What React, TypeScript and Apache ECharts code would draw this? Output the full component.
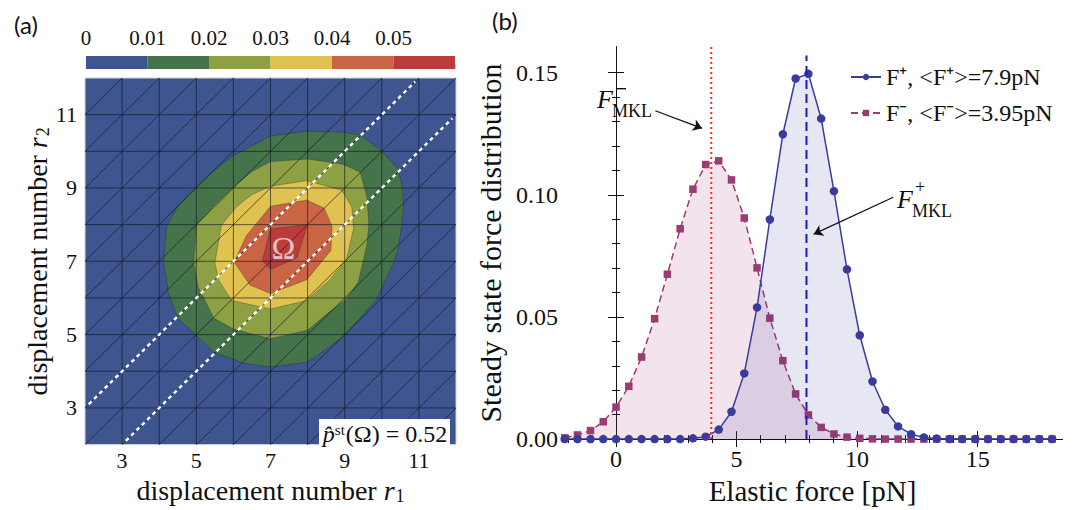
import React, { useEffect, useRef } from "react";
import * as echarts from "echarts";

// ---------------- Panel (a): contour data ----------------
const R_MIN = 2;
const R_MAX = 12;
const R_TICKS = [3, 5, 7, 9, 11];
const MESH_LINES = [3, 4, 5, 6, 7, 8, 9, 10, 11];
const MESH_DIAGONALS = [-9, -8, -7, -6, -5, -4, -3, -2, -1, 0, 1, 2, 3, 4, 5, 6, 7, 8, 9];

const LEVELS = [0, 0.01, 0.02, 0.03, 0.04, 0.05, 0.06];
const LEVEL_TICKS = [0, 0.01, 0.02, 0.03, 0.04, 0.05];
const LEVEL_COLORS = ["#3e5590", "#45744a", "#8da043", "#dfc24f", "#c96444", "#bc3c3c"];

const CONTOUR_001 = [[7.0, 10.42], [8.0, 10.55], [8.95, 10.52], [9.42, 10.45], [10.0, 10.0], [10.44, 9.52], [10.56, 9.0], [10.58, 8.5], [10.54, 8.0], [10.45, 7.4], [10.36, 7.05], [10.1, 6.5], [9.86, 5.97], [9.42, 5.45], [8.97, 4.95], [8.0, 4.25], [7.0, 4.12], [6.27, 4.22], [5.46, 4.53], [5.0, 4.98], [4.5, 5.45], [4.25, 6.12], [4.12, 7.0], [4.2, 7.95], [4.5, 8.5], [4.97, 9.02], [5.5, 9.5], [6.0, 9.88]];
const CONTOUR_002 = [[7.0, 9.72], [8.0, 9.79], [8.95, 9.65], [9.42, 9.43], [9.6, 8.75], [9.65, 8.0], [9.6, 7.45], [9.37, 6.45], [9.05, 5.97], [8.5, 5.55], [8.0, 5.12], [7.0, 4.89], [6.0, 5.15], [5.47, 5.45], [5.05, 6.3], [4.93, 6.97], [5.0, 8.0], [5.5, 8.55], [5.97, 9.0], [6.5, 9.45]];
const CONTOUR_003 = [[7.0, 9.05], [7.98, 9.2], [8.92, 8.94], [9.19, 8.49], [9.24, 7.9], [9.05, 7.05], [8.6, 6.5], [7.98, 5.93], [7.0, 5.7], [5.95, 5.93], [5.6, 6.5], [5.5, 6.96], [5.68, 7.99], [6.1, 8.5], [6.5, 8.82]];
const CONTOUR_004 = [[7.0, 8.5], [7.98, 8.67], [8.45, 8.45], [8.66, 7.95], [8.63, 7.3], [7.98, 6.5], [7.0, 6.12], [6.45, 6.35], [6.02, 6.98], [6.35, 7.7]];
const CONTOUR_005 = [[7.0, 7.88], [8.0, 8.0], [7.85, 7.55], [7.72, 7.1], [7.0, 6.78], [6.78, 7.02]];
const CONTOURS = [CONTOUR_001, CONTOUR_002, CONTOUR_003, CONTOUR_004, CONTOUR_005];

const GUIDE_UPPER = [[2.1, 3.1], [10.9, 11.9]];
const GUIDE_LOWER = [[3.1, 2.1], [11.9, 10.9]];
const OMEGA_AT = [7.35, 7.36];
const P_OMEGA = "0.52";

// ---------------- Panel (b): force distributions ----------------
const FORCE_PN = [-2.13, -1.6, -1.06, -0.53, 0, 0.53, 1.06, 1.6, 2.13, 2.66, 3.19, 3.72, 4.26, 4.79, 5.32, 5.85, 6.38, 6.92, 7.45, 7.98, 8.51, 9.04, 9.58, 10.11, 10.64, 11.17, 11.7, 12.24, 12.77, 13.3, 13.83, 14.36, 14.9, 15.43, 15.96, 16.49, 17.02, 17.56, 18.09];
const P_PLUS = [0, 0, 0, 0, 0, 0, 0, 0, 0, 0, 0.0003, 0.001, 0.0039, 0.0112, 0.0269, 0.0539, 0.0899, 0.1248, 0.1476, 0.1495, 0.1312, 0.1015, 0.0695, 0.0425, 0.0236, 0.012, 0.0052, 0.002, 0.0007, 0.0002, 0, 0, 0, 0, 0, 0, 0, 0, 0];
const P_MINUS = [0.0005, 0.0017, 0.0035, 0.0071, 0.0131, 0.0216, 0.0336, 0.0493, 0.0675, 0.0861, 0.1023, 0.1124, 0.1139, 0.1061, 0.0905, 0.0701, 0.0495, 0.0321, 0.0185, 0.0099, 0.0048, 0.0021, 0.0008, 0.0003, 0.0001, 0, 0, 0, 0, 0, 0, 0, 0, 0, 0, 0, 0, 0, 0];
const F_MIN = -2.2;
const F_MAX = 18.5;
const P_MIN = 0;
const P_MAX = 0.1605;
const F_MAJOR = [0, 5, 10, 15];
const F_MINOR = [-2, -1, 1, 2, 3, 4, 6, 7, 8, 9, 11, 12, 13, 14, 16, 17, 18];
const P_MAJOR = [0, 0.05, 0.1, 0.15];
const P_MINOR = [0.01, 0.02, 0.03, 0.04, 0.06, 0.07, 0.08, 0.09, 0.11, 0.12, 0.13, 0.14];
const MEAN_PLUS = 7.9;
const MEAN_MINUS = 3.95;
const LINE_TOP_PLUS = 0.157;
const ARROW_MINUS = [[1.63, 0.1344], [3.57, 0.1272]];
const ARROW_PLUS = [[11.5, 0.099], [8.2, 0.0839]];
const NAME_PLUS = "F\u207A, <F\u207A>=7.9pN";
const NAME_MINUS = "F\u207B, <F\u207B>=3.95pN";

const SERIF = '"Liberation Serif", "Times New Roman", serif';
const INK = "#111";

// mesh segments of the triangular grid
const MESH_SEGMENTS: number[][] = [];
MESH_LINES.forEach((n) => {
  MESH_SEGMENTS.push([n, R_MIN, n, R_MAX]);
  MESH_SEGMENTS.push([R_MIN, n, R_MAX, n]);
});
MESH_DIAGONALS.forEach((c) => {
  if (c >= 0) MESH_SEGMENTS.push([R_MIN, R_MIN + c, R_MAX - c, R_MAX]);
  else MESH_SEGMENTS.push([R_MIN - c, R_MIN, R_MAX, R_MAX + c]);
});

function frameAxis(position: string, values: number[], len: number, range: number[], extra: any = {}) {
  return {
    type: "value",
    gridIndex: 1,
    position,
    min: range[0],
    max: range[1],
    axisLine: { show: true, lineStyle: { color: INK, width: 1 } },
    axisTick: { show: true, inside: true, length: len, customValues: values, lineStyle: { color: INK, width: 1 } },
    axisLabel: { show: false },
    splitLine: { show: false },
    ...extra,
  };
}

const rName = (sub: string) => ({
  name: "{t|displacement number }{i|r}{s|" + sub + "}",
  nameLocation: "middle",
  nameTextStyle: {
    rich: {
      t: { fontFamily: SERIF, fontSize: 28, color: INK },
      i: { fontFamily: SERIF, fontSize: 28, fontStyle: "italic", color: INK },
      s: { fontFamily: SERIF, fontSize: 18, color: INK, verticalAlign: "bottom", padding: [11, 0, 0, 1] },
    },
  },
});

function buildOption(): any {
  const xAxis: any[] = [
    {
      type: "value",
      gridIndex: 0,
      min: R_MIN,
      max: R_MAX,
      position: "bottom",
      axisLine: { show: false },
      axisTick: { show: false },
      splitLine: { show: false },
      axisLabel: { customValues: R_TICKS, fontFamily: SERIF, fontSize: 22, color: INK, margin: 5 },
      ...rName("1"),
      nameGap: 25,
    },
    frameAxis("bottom", F_MAJOR, 8, [F_MIN, F_MAX], {
      axisLabel: { show: true, customValues: F_MAJOR, fontFamily: SERIF, fontSize: 24, color: INK, margin: 8 },
      name: "Elastic force [pN]",
      nameLocation: "middle",
      nameGap: 30,
      nameTextStyle: { fontFamily: SERIF, fontSize: 29, color: INK },
    }),
    frameAxis("bottom", F_MINOR, 4, [F_MIN, F_MAX]),
    frameAxis("top", F_MAJOR, 8, [F_MIN, F_MAX]),
    frameAxis("top", F_MINOR, 4, [F_MIN, F_MAX]),
    {
      type: "value",
      gridIndex: 2,
      min: LEVELS[0],
      max: LEVELS[LEVELS.length - 1],
      position: "top",
      axisLine: { show: false },
      axisTick: { show: true, customValues: LEVELS, length: 5, lineStyle: { color: "#c8c8c8", width: 1 } },
      splitLine: { show: false },
      axisLabel: {
        customValues: LEVEL_TICKS,
        fontFamily: SERIF,
        fontSize: 21,
        color: INK,
        margin: 8,
        formatter: (v: number) => (v === 0 ? "0" : v.toFixed(2)),
      },
    },
  ];
  const yAxis: any[] = [
    {
      type: "value",
      gridIndex: 0,
      min: R_MIN,
      max: R_MAX,
      position: "left",
      axisLine: { show: false },
      axisTick: { show: false },
      splitLine: { show: false },
      axisLabel: { customValues: R_TICKS, fontFamily: SERIF, fontSize: 22, color: INK, margin: 8 },
      ...rName("2"),
      nameGap: 26,
    },
    frameAxis("left", P_MAJOR, 8, [P_MIN, P_MAX], {
      axisLabel: {
        show: true,
        customValues: P_MAJOR,
        fontFamily: SERIF,
        fontSize: 24,
        color: INK,
        margin: 5,
        formatter: (v: number) => v.toFixed(2),
      },
      name: "Steady state force distribution",
      nameLocation: "middle",
      nameGap: 58,
      nameTextStyle: { fontFamily: SERIF, fontSize: 30, color: INK },
    }),
    frameAxis("left", P_MINOR, 4, [P_MIN, P_MAX]),
    frameAxis("right", P_MAJOR, 8, [P_MIN, P_MAX]),
    frameAxis("right", P_MINOR, 4, [P_MIN, P_MAX]),
    {
      type: "value",
      gridIndex: 2,
      min: 0,
      max: 1,
      show: false,
    },
  ];

  const series: any[] = [
    // contour fills
    {
      type: "custom",
      xAxisIndex: 0,
      yAxisIndex: 0,
      silent: true,
      z: 2,
      data: CONTOURS.map((c) => c[0]),
      renderItem: (params: any, api: any) => {
        const poly = CONTOURS[params.dataIndex];
        return {
          type: "polygon",
          shape: { points: poly.map((p) => api.coord(p)) },
          style: { fill: LEVEL_COLORS[params.dataIndex + 1], stroke: "rgba(20,25,30,0.35)", lineWidth: 0.8 },
        };
      },
    },
    // triangular mesh
    {
      type: "custom",
      xAxisIndex: 0,
      yAxisIndex: 0,
      silent: true,
      z: 3,
      data: MESH_SEGMENTS,
      encode: { x: [0, 2], y: [1, 3] },
      renderItem: (params: any, api: any) => {
        const s = MESH_SEGMENTS[params.dataIndex];
        const a = api.coord([s[0], s[1]]);
        const b = api.coord([s[2], s[3]]);
        return {
          type: "line",
          shape: { x1: a[0], y1: a[1], x2: b[0], y2: b[1] },
          style: { stroke: "rgba(15,22,35,0.8)", lineWidth: 0.8 },
        };
      },
    },
    // white guide lines
    ...[GUIDE_UPPER, GUIDE_LOWER].map((g) => ({
      type: "line",
      xAxisIndex: 0,
      yAxisIndex: 0,
      data: g,
      showSymbol: false,
      symbol: "none",
      silent: true,
      z: 4,
      lineStyle: { color: "#ffffff", width: 2.4, type: [4, 3.5] },
    })),
    // Omega label
    {
      type: "scatter",
      xAxisIndex: 0,
      yAxisIndex: 0,
      data: [OMEGA_AT],
      symbolSize: 0,
      silent: true,
      z: 5,
      label: { show: true, position: "inside", formatter: "\u03A9", fontFamily: SERIF, fontSize: 32, color: "#efe6e6" },
    },
    // colorbar
    {
      type: "custom",
      xAxisIndex: 5,
      yAxisIndex: 5,
      silent: true,
      data: LEVEL_COLORS.map((_, i) => [LEVELS[i], 0, LEVELS[i + 1], 1]),
      encode: { x: [0, 2], y: [1, 3] },
      renderItem: (params: any, api: any) => {
        const i = params.dataIndex;
        const a = api.coord([LEVELS[i], 1]);
        const b = api.coord([LEVELS[i + 1], 0]);
        return {
          type: "rect",
          shape: { x: a[0], y: a[1], width: b[0] - a[0], height: b[1] - a[1] },
          style: { fill: LEVEL_COLORS[i] },
        };
      },
    },
    // F- distribution
    {
      name: NAME_MINUS,
      type: "line",
      xAxisIndex: 1,
      yAxisIndex: 1,
      data: FORCE_PN.map((f, i) => [f, P_MINUS[i]]),
      symbol: "rect",
      symbolSize: 7.5,
      showSymbol: true,
      z: 3,
      itemStyle: { color: "#9a3c72" },
      lineStyle: { color: "#9a3c72", width: 1.5, type: [7, 4] },
      areaStyle: { color: "rgba(160,60,120,0.2)" },
    },
    // F+ distribution
    {
      name: NAME_PLUS,
      type: "line",
      xAxisIndex: 1,
      yAxisIndex: 1,
      data: FORCE_PN.map((f, i) => [f, P_PLUS[i]]),
      symbol: "circle",
      symbolSize: 8.5,
      showSymbol: true,
      z: 4,
      itemStyle: { color: "#3b3b9c" },
      lineStyle: { color: "#3b3b9c", width: 1.5 },
      areaStyle: { color: "rgba(60,60,160,0.18)" },
    },
    // mean lines + arrows
    {
      type: "line",
      xAxisIndex: 1,
      yAxisIndex: 1,
      data: [[MEAN_MINUS, P_MIN], [MEAN_MINUS, P_MAX]],
      symbol: "none",
      silent: true,
      z: 5,
      lineStyle: { color: "#ff2b2b", width: 2, type: [2, 3] },
      markLine: {
        silent: true,
        symbol: ["none", "arrow"],
        symbolSize: 9,
        label: { show: false },
        lineStyle: { color: INK, width: 1.3, type: "solid" },
        data: [
          [{ coord: ARROW_MINUS[0] }, { coord: ARROW_MINUS[1] }],
          [{ coord: ARROW_PLUS[0] }, { coord: ARROW_PLUS[1] }],
        ],
      },
    },
    {
      type: "line",
      xAxisIndex: 1,
      yAxisIndex: 1,
      data: [[MEAN_PLUS, P_MIN], [MEAN_PLUS, LINE_TOP_PLUS]],
      symbol: "none",
      silent: true,
      z: 5,
      lineStyle: { color: "#1a1acc", width: 2, type: [9, 5] },
    },
  ];

  const label = (text: string, x: number, y: number, font: string) => ({
    type: "text",
    x,
    y,
    silent: true,
    z: 20,
    style: { text, font, fill: INK, align: "left", verticalAlign: "top" },
  });

  const graphic: any[] = [
    label("(a)", 14, 12, '24px Lato, "Noto Sans", sans-serif'),
    label("(b)", 492, 8, '24px Lato, "Noto Sans", sans-serif'),
    {
      type: "rect",
      shape: { x: 319, y: 419, width: 131, height: 28 },
      style: { fill: "#ffffff" },
      z: 10,
    },
    {
      type: "text",
      x: 385,
      y: 434,
      z: 11,
      style: {
        text: "{p|p\u0302}{s|st}{n|(\u03A9) = " + P_OMEGA + "}",
        align: "center",
        verticalAlign: "middle",
        rich: {
          p: { fontFamily: SERIF, fontSize: 24, fontStyle: "italic", fill: INK },
          s: { fontFamily: SERIF, fontSize: 15, fill: INK, verticalAlign: "top", padding: [0, 1, 0, 0] },
          n: { fontFamily: SERIF, fontSize: 24, fill: INK },
        },
      },
    },
    label("F", 597, 86, 'italic 26px "Liberation Serif", serif'),
    {
      type: "rect",
      silent: true,
      z: 20,
      shape: { x: 617, y: 88, width: 9, height: 1.4 },
      style: { fill: INK },
    },
    label("MKL", 612, 102, '18px "Liberation Serif", serif'),
    label("F", 897, 186, 'italic 26px "Liberation Serif", serif'),
    label("+", 915, 178, '18px "Liberation Serif", serif'),
    label("MKL", 912, 202, '18px "Liberation Serif", serif'),
  ];

  return {
    animation: false,
    backgroundColor: "#ffffff",
    grid: [
      { left: 85, top: 78, width: 371, height: 371, show: true, backgroundColor: LEVEL_COLORS[0], borderColor: "#cfd3da", borderWidth: 1 },
      { left: 563, top: 47, width: 499, height: 401 },
      { left: 86, top: 56, width: 369, height: 13 },
    ],
    xAxis,
    yAxis,
    legend: {
      data: [NAME_PLUS, NAME_MINUS],
      left: 845,
      top: 60,
      orient: "vertical",
      itemGap: 12,
      itemWidth: 30,
      itemHeight: 8,
      selectedMode: false,
      textStyle: { fontFamily: SERIF, fontSize: 24, color: INK },
    },
    series,
    graphic,
  };
}

export default function App() {
  const ref = useRef<HTMLDivElement>(null);
  useEffect(() => {
    const chart = echarts.init(ref.current as HTMLDivElement, undefined, { renderer: "svg" });
    chart.setOption(buildOption());
    return () => chart.dispose();
  }, []);
  return (
    <div
      ref={ref}
      style={{ position: "absolute", left: 0, top: 0, width: 1074, height: 510, background: "#ffffff" }}
    />
  );
}
